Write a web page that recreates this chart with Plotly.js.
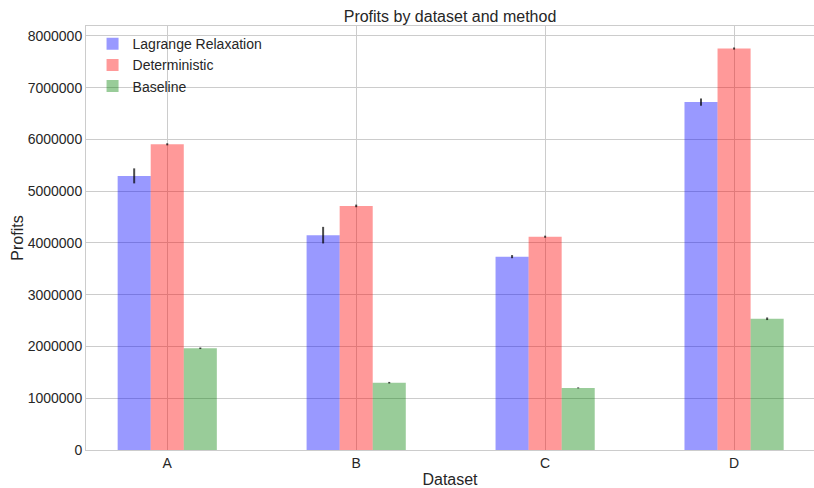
<!DOCTYPE html>
<html>
<head>
<meta charset="utf-8">
<script src="https://cdn.plot.ly/plotly-3.0.1.min.js"></script>
<style>html,body{margin:0;padding:0;background:#fff}#chart{width:814px;height:488px}</style>
</head>
<body>
<div id="chart"></div>
<script>
const categories = ["A", "B", "C", "D"];
const lagrange = [5295000, 4150000, 3735000, 6720000];
const lagrangeErr = [145000, 160000, 30000, 70000];
const deterministic = [5905000, 4715000, 4120000, 7755000];
const deterministicErr = [20000, 25000, 20000, 20000];
const baseline = [1965000, 1300000, 1200000, 2535000];
const baselineErr = [15000, 15000, 10000, 25000];
const seriesNames = ["Lagrange Relaxation", "Deterministic", "Baseline"];

const errStyle = (arr) => ({type: 'data', array: arr, visible: true, color: 'rgba(0,0,0,0.7)', thickness: 2, width: 0});

const traces = [
  {type: 'bar', name: seriesNames[0], x: categories, y: lagrange, error_y: errStyle(lagrangeErr), marker: {color: 'rgba(0,0,255,0.4)', line: {width: 0}}},
  {type: 'bar', name: seriesNames[1], x: categories, y: deterministic, error_y: errStyle(deterministicErr), marker: {color: 'rgba(255,0,0,0.4)', line: {width: 0}}},
  {type: 'bar', name: seriesNames[2], x: categories, y: baseline, error_y: errStyle(baselineErr), marker: {color: 'rgba(0,128,0,0.4)', line: {width: 0}}}
];

const font = {family: 'Liberation Sans, Arial, sans-serif', color: '#262626'};

const layout = {
  width: 814, height: 488,
  margin: {l: 86, r: 0, t: 26, b: 38},
  paper_bgcolor: '#fff', plot_bgcolor: '#fff',
  font: Object.assign({size: 14}, font),
  title: {text: 'Profits by dataset and method', font: Object.assign({}, font, {size: 16}), xref: 'paper', x: 0.5, xanchor: 'center', y: 0.978, yanchor: 'top'},
  barmode: 'group', bargap: 0.475, bargroupgap: 0,
  showlegend: true,
  legend: {x: 0.009, y: 0.995, xanchor: 'left', yanchor: 'top', bgcolor: 'rgba(0,0,0,0)', font: Object.assign({}, font, {size: 14}), tracegroupgap: 0},
  xaxis: {
    type: 'category', range: [-0.43, 3.423],
    title: {text: 'Dataset', font: Object.assign({}, font, {size: 16}), standoff: 6},
    showgrid: true, gridcolor: '#cccccc', gridwidth: 1,
    showline: true, linecolor: '#cccccc', linewidth: 1, mirror: true,
    ticks: '', tickfont: Object.assign({}, font, {size: 14}), zeroline: false
  },
  yaxis: {
    range: [0, 8190000], dtick: 1000000, tickformat: 'd',
    title: {text: 'Profits', font: Object.assign({}, font, {size: 16}), standoff: 0},
    showgrid: true, gridcolor: '#cccccc', gridwidth: 1,
    showline: true, linecolor: '#cccccc', linewidth: 1, mirror: true,
    ticks: '', tickfont: Object.assign({}, font, {size: 14}), zeroline: false
  }
};

Plotly.newPlot('chart', traces, layout, {displayModeBar: false, staticPlot: true});
</script>
</body>
</html>
